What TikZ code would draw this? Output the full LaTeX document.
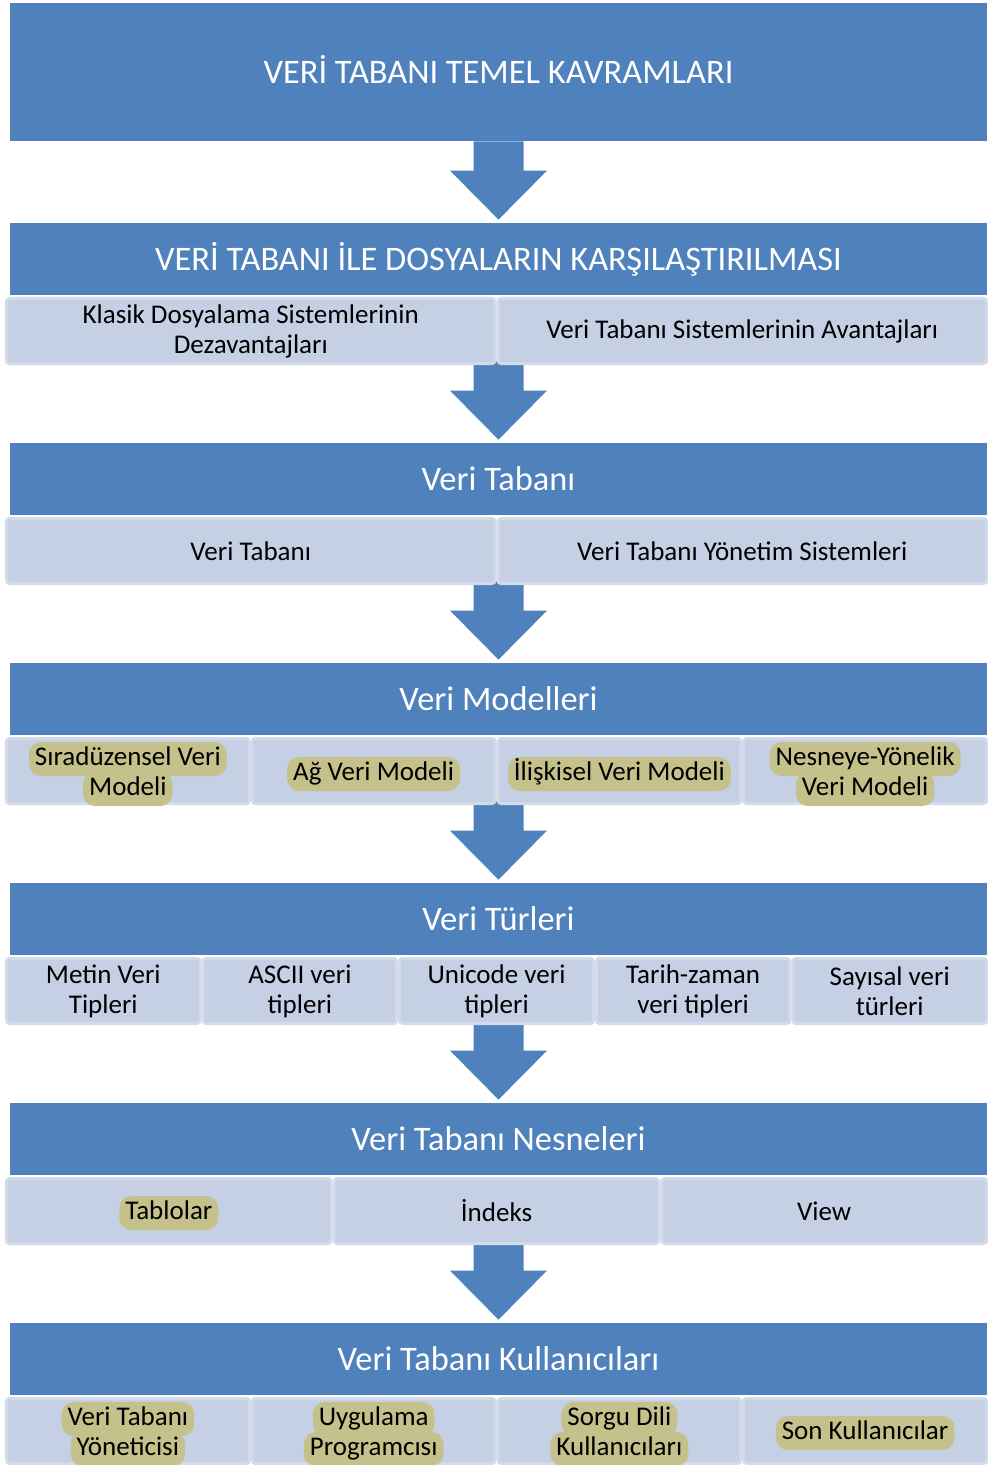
\documentclass[tikz,border=0pt]{standalone}
\usepackage{fontspec}
\setmainfont{Carlito}
\usetikzlibrary{calc}
\definecolor{hdrblue}{HTML}{4F81BD}
\definecolor{cellfill}{HTML}{C5D0E4}
\definecolor{cellrim}{HTML}{D3DBEA}
\definecolor{pillfill}{HTML}{C4C18A}
\tikzset{
  hdrbox/.style={fill=hdrblue, text=white, minimum width=488.5pt, minimum height=36pt, inner sep=0pt, font=\fontsize{17.2}{20}\selectfont},
  cellbox/.style={fill=cellfill, draw=cellrim, line width=1.5pt, rounded corners=1.5pt, minimum width=#1, minimum height=32.5pt, inner sep=0pt, align=center, font=\fontsize{13.5}{15}\selectfont},
  pill/.style={fill=pillfill, rounded corners=6pt, inner xsep=3pt, inner ysep=2.25pt, text height=9.5pt, text depth=3pt, font=\fontsize{13.5}{15}\selectfont},
}
% block arrow between two header boxes, shaft starts #1 below the first box
\newcommand{\blockarrow}[3][0pt]{%
  \fill[hdrblue] let \p1=(#2.south), \p2=(#3.north) in
    (\x1-12.5pt,\y1-#1) -- (\x1+12.5pt,\y1-#1) -- (\x1+12.5pt,\y2+26pt) -- (\x1+24.25pt,\y2+26pt)
    -- (\x1,\y2+1.5pt) -- (\x1-24.25pt,\y2+26pt) -- (\x1-12.5pt,\y2+26pt) -- cycle;}
\begin{document}
\begin{tikzpicture}[x=0.5pt, y=-0.5pt]
\useasboundingbox (0,0) rectangle (988,1465);
% Header boxes
\node[hdrbox, minimum height=69pt] (kavram) at (498.5,72) {};
\node[text=white, font=\fontsize{17.2}{20}\selectfont] (kavram-t) at (498.5,69) {VERİ TABANI TEMEL KAVRAMLARI};
\node[hdrbox] (karsi) at (498.5,259) {VERİ TABANI İLE DOSYALARIN KARŞILAŞTIRILMASI};
\node[hdrbox] (vt) at (498.5,479) {Veri Tabanı};
\node[hdrbox] (model) at (498.5,699) {Veri Modelleri};
\node[hdrbox] (tur) at (498.5,919) {Veri Türleri};
\node[hdrbox] (nesne) at (498.5,1139) {Veri Tabanı Nesneleri};
\node[hdrbox] (kul) at (498.5,1359) {Veri Tabanı Kullanıcıları};
% Arrows
\blockarrow{kavram}{karsi}
\blockarrow[33pt]{karsi}{vt}
\blockarrow[33pt]{vt}{model}
\blockarrow[33pt]{model}{tur}
\blockarrow[33pt]{tur}{nesne}
\blockarrow[33pt]{nesne}{kul}
% Sub boxes: two columns
\foreach \i/\txt in {1/{Klasik Dosyalama Sistemlerinin\\Dezavantajları}, 2/{Veri Tabanı Sistemlerinin Avantajları}} {
  \node[cellbox=244.25pt] (karsi-\i) at ({5+(\i-0.5)*491.5}, 331) {\txt};
}
\foreach \i/\txt in {1/{Veri Tabanı}, 2/{Veri Tabanı Yönetim Sistemleri}} {
  \node[cellbox=244.25pt] (vt-\i) at ({5+(\i-0.5)*491.5}, 551) {\txt};
}
% Veri modelleri (highlighted)
\foreach \i in {1,...,4} {
  \node[cellbox=121.4pt] (model-\i) at ({5+(\i-0.5)*245.75}, 771) {};
}
\node[pill] (model-1a) at ([yshift=6pt]model-1) {Sıradüzensel Veri};
\node[pill] (model-1b) at ([yshift=-9pt]model-1) {Modeli};
\node[pill] (model-2a) at ([yshift=-1.5pt]model-2) {Ağ Veri Modeli};
\node[pill] (model-3a) at ([yshift=-1.5pt]model-3) {İlişkisel Veri Modeli};
\node[pill] (model-4a) at ([yshift=6pt]model-4) {Nesneye-Yönelik};
\node[pill] (model-4b) at ([yshift=-9pt]model-4) {Veri Modeli};
% Veri turleri
\foreach \i/\txt in {1/{Metin Veri\\Tipleri}, 2/{ASCII veri\\tipleri}, 3/{Unicode veri\\tipleri}, 4/{Tarih-zaman\\veri tipleri}, 5/{Sayısal veri\\türleri}} {
  \node[cellbox=96.8pt] (tur-\i) at ({5+(\i-0.5)*196.6}, 991) {\txt};
}
% Nesneler
\foreach \i/\txt in {1/{}, 2/{İndeks}, 3/{View}} {
  \node[cellbox=162.3pt] (nesne-\i) at ({5+(\i-0.5)*327.67}, 1211) {\txt};
}
\node[pill] (nesne-1a) at ([yshift=-1pt]nesne-1) {Tablolar};
% Kullanicilar (highlighted)
\foreach \i in {1,...,4} {
  \node[cellbox=121.4pt] (kul-\i) at ({5+(\i-0.5)*245.75}, 1431) {};
}
\node[pill] (kul-1a) at ([yshift=6pt]kul-1) {Veri Tabanı};
\node[pill] (kul-1b) at ([yshift=-9pt]kul-1) {Yöneticisi};
\node[pill] (kul-2a) at ([yshift=6pt]kul-2) {Uygulama};
\node[pill] (kul-2b) at ([yshift=-9pt]kul-2) {Programcısı};
\node[pill] (kul-3a) at ([yshift=6pt]kul-3) {Sorgu Dili};
\node[pill] (kul-3b) at ([yshift=-9pt]kul-3) {Kullanıcıları};
\node[pill] (kul-4a) at ([yshift=-1pt]kul-4) {Son Kullanıcılar};
\end{tikzpicture}
\end{document}
